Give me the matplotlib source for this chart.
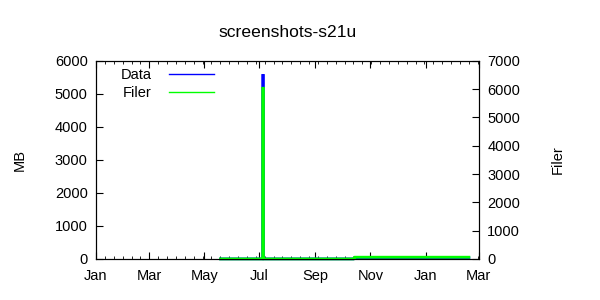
import matplotlib
matplotlib.use('Agg')
import matplotlib.pyplot as plt
import matplotlib.dates as mdates
from matplotlib.ticker import AutoMinorLocator
import numpy as np
from datetime import datetime

plt.rcParams['font.family'] = ['Liberation Sans', 'DejaVu Sans']
plt.rcParams['font.size'] = 10.5

# values
dates = ['2021-05-19 00:00', '2021-07-05 00:00', '2021-07-05 00:10', '2021-07-05 00:20',
         '2021-10-14 00:00', '2021-10-14 01:00', '2022-02-18 00:00']
data_mb = [0, 0, 5600, 0, 0, 30, 30]
filer = [0, 0, 6080, 0, 0, 60, 60]

x = [datetime.strptime(d, '%Y-%m-%d %H:%M') for d in dates]

fig = plt.figure(figsize=(6, 3), dpi=100)
ax = fig.add_axes([0.16, 0.137, 0.638, 0.66])
ax2 = ax.twinx()

ax.plot(x, data_mb, color='#0000ff', lw=2, clip_on=False, solid_joinstyle='bevel')
ax2.plot(x, filer, color='#00ff00', lw=2, clip_on=False, solid_joinstyle='bevel')
ax.set_zorder(ax2.get_zorder() - 1)
ax2.patch.set_visible(False)

ax.set_xlim(datetime(2021, 1, 1), datetime(2022, 3, 1))
ax.set_ylim(0, 6000)
ax2.set_ylim(0, 7000)
ax.set_yticks(np.arange(0, 6001, 1000))
ax2.set_yticks(np.arange(0, 7001, 1000))

ax.xaxis.set_major_locator(mdates.MonthLocator(bymonth=[1, 3, 5, 7, 9, 11]))
ax.xaxis.set_minor_locator(AutoMinorLocator(6))
ax.xaxis.set_major_formatter(mdates.DateFormatter('%b'))

ax.tick_params(axis='x', which='both', direction='in', top=True)
ax.tick_params(axis='x', which='major', length=5, pad=7)
ax.tick_params(axis='x', which='minor', length=2.5)
ax.tick_params(axis='y', direction='in', length=5, pad=6)
ax2.tick_params(axis='y', direction='in', length=5, pad=6)

ax.set_ylabel('MB', labelpad=20)
ax2.set_ylabel('Filer', labelpad=22)
ax.set_title('screenshots-s21u', pad=17)

leg_lines = [plt.Line2D([], [], color='#0000ff', lw=1),
             plt.Line2D([], [], color='#00ff00', lw=1)]
ax.legend(leg_lines, ['Data', 'Filer'], loc='upper left',
          bbox_to_anchor=(0.03, 1.03), frameon=False, markerfirst=False,
          handlelength=3.1, labelspacing=0.25, handletextpad=1.2)

fig.savefig('out.png', dpi=100)
